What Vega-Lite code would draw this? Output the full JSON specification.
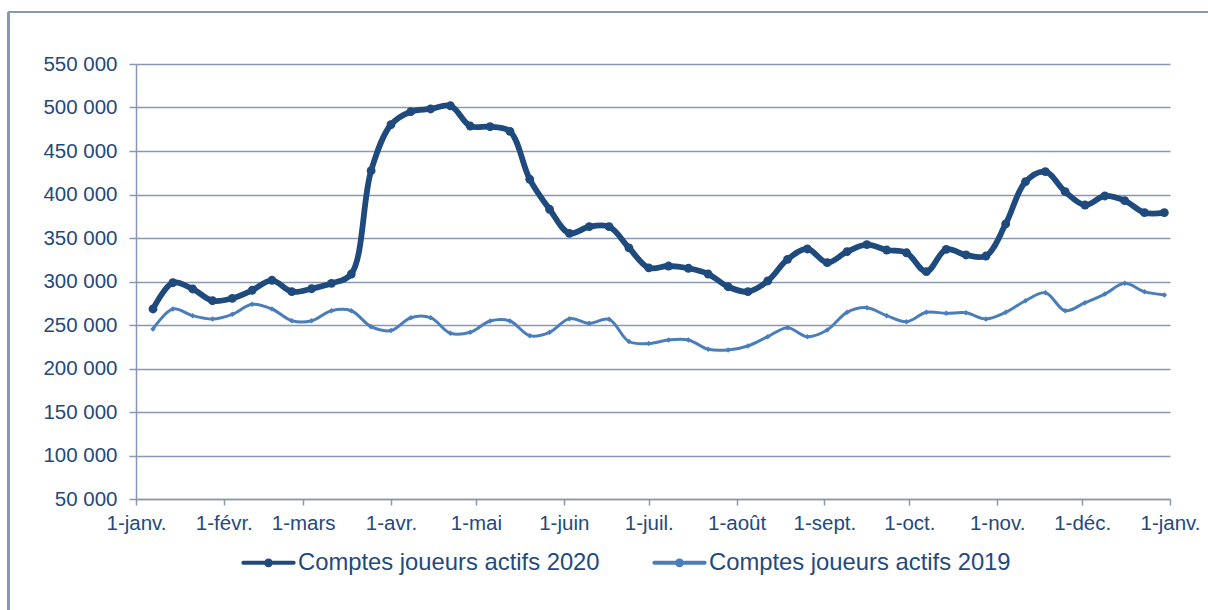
{
  "$schema": "https://vega.github.io/schema/vega-lite/v6.json",
  "width": 1034,
  "height": 435,
  "autosize": {"type": "none"},
  "padding": {"left": 136, "top": 64, "right": 38, "bottom": 111},
  "background": "white",
  "config": {
    "view": {"stroke": null},
    "font": "Liberation Sans",
    "axis": {
      "labelFont": "Liberation Sans",
      "labelFontSize": 20.5,
      "labelColor": "#1f4a7d",
      "domainColor": "#8a97b0",
      "domainWidth": 1.5,
      "tickColor": "#8a97b0",
      "tickWidth": 1.5,
      "gridColor": "#8a97b0",
      "gridWidth": 1.5,
      "title": null
    }
  },
  "data": {"values": [
    {"date": "2019-01-07", "serie": "2020", "comptes": 268400},
    {"date": "2019-01-14", "serie": "2020", "comptes": 298600},
    {"date": "2019-01-21", "serie": "2020", "comptes": 291400},
    {"date": "2019-01-28", "serie": "2020", "comptes": 277900},
    {"date": "2019-02-04", "serie": "2020", "comptes": 280700},
    {"date": "2019-02-11", "serie": "2020", "comptes": 289900},
    {"date": "2019-02-18", "serie": "2020", "comptes": 301400},
    {"date": "2019-02-25", "serie": "2020", "comptes": 288300},
    {"date": "2019-03-04", "serie": "2020", "comptes": 291700},
    {"date": "2019-03-11", "serie": "2020", "comptes": 297900},
    {"date": "2019-03-18", "serie": "2020", "comptes": 308600},
    {"date": "2019-03-25", "serie": "2020", "comptes": 427400},
    {"date": "2019-04-01", "serie": "2020", "comptes": 480200},
    {"date": "2019-04-08", "serie": "2020", "comptes": 495200},
    {"date": "2019-04-15", "serie": "2020", "comptes": 498300},
    {"date": "2019-04-22", "serie": "2020", "comptes": 502000},
    {"date": "2019-04-29", "serie": "2020", "comptes": 478700},
    {"date": "2019-05-06", "serie": "2020", "comptes": 477900},
    {"date": "2019-05-13", "serie": "2020", "comptes": 472600},
    {"date": "2019-05-20", "serie": "2020", "comptes": 417500},
    {"date": "2019-05-27", "serie": "2020", "comptes": 383000},
    {"date": "2019-06-03", "serie": "2020", "comptes": 355400},
    {"date": "2019-06-10", "serie": "2020", "comptes": 363000},
    {"date": "2019-06-17", "serie": "2020", "comptes": 363000},
    {"date": "2019-06-24", "serie": "2020", "comptes": 338700},
    {"date": "2019-07-01", "serie": "2020", "comptes": 315700},
    {"date": "2019-07-08", "serie": "2020", "comptes": 317800},
    {"date": "2019-07-15", "serie": "2020", "comptes": 315200},
    {"date": "2019-07-22", "serie": "2020", "comptes": 308600},
    {"date": "2019-07-29", "serie": "2020", "comptes": 294000},
    {"date": "2019-08-05", "serie": "2020", "comptes": 288300},
    {"date": "2019-08-12", "serie": "2020", "comptes": 300600},
    {"date": "2019-08-19", "serie": "2020", "comptes": 325500},
    {"date": "2019-08-26", "serie": "2020", "comptes": 337400},
    {"date": "2019-09-02", "serie": "2020", "comptes": 321600},
    {"date": "2019-09-09", "serie": "2020", "comptes": 334300},
    {"date": "2019-09-16", "serie": "2020", "comptes": 342300},
    {"date": "2019-09-23", "serie": "2020", "comptes": 336200},
    {"date": "2019-09-30", "serie": "2020", "comptes": 333000},
    {"date": "2019-10-07", "serie": "2020", "comptes": 311300},
    {"date": "2019-10-14", "serie": "2020", "comptes": 337000},
    {"date": "2019-10-21", "serie": "2020", "comptes": 330500},
    {"date": "2019-10-28", "serie": "2020", "comptes": 329300},
    {"date": "2019-11-04", "serie": "2020", "comptes": 366100},
    {"date": "2019-11-11", "serie": "2020", "comptes": 414700},
    {"date": "2019-11-18", "serie": "2020", "comptes": 426200},
    {"date": "2019-11-25", "serie": "2020", "comptes": 403200},
    {"date": "2019-12-02", "serie": "2020", "comptes": 387900},
    {"date": "2019-12-09", "serie": "2020", "comptes": 398300},
    {"date": "2019-12-16", "serie": "2020", "comptes": 392900},
    {"date": "2019-12-23", "serie": "2020", "comptes": 379100},
    {"date": "2019-12-30", "serie": "2020", "comptes": 379100},
    {"date": "2019-01-07", "serie": "2019", "comptes": 245400},
    {"date": "2019-01-14", "serie": "2019", "comptes": 268400},
    {"date": "2019-01-21", "serie": "2019", "comptes": 260700},
    {"date": "2019-01-28", "serie": "2019", "comptes": 256900},
    {"date": "2019-02-04", "serie": "2019", "comptes": 262300},
    {"date": "2019-02-11", "serie": "2019", "comptes": 273800},
    {"date": "2019-02-18", "serie": "2019", "comptes": 268400},
    {"date": "2019-02-25", "serie": "2019", "comptes": 254900},
    {"date": "2019-03-04", "serie": "2019", "comptes": 254900},
    {"date": "2019-03-11", "serie": "2019", "comptes": 266400},
    {"date": "2019-03-18", "serie": "2019", "comptes": 266400},
    {"date": "2019-03-25", "serie": "2019", "comptes": 248100},
    {"date": "2019-04-01", "serie": "2019", "comptes": 243600},
    {"date": "2019-04-08", "serie": "2019", "comptes": 258400},
    {"date": "2019-04-15", "serie": "2019", "comptes": 258400},
    {"date": "2019-04-22", "serie": "2019", "comptes": 240500},
    {"date": "2019-04-29", "serie": "2019", "comptes": 241600},
    {"date": "2019-05-06", "serie": "2019", "comptes": 254600},
    {"date": "2019-05-13", "serie": "2019", "comptes": 254600},
    {"date": "2019-05-20", "serie": "2019", "comptes": 237700},
    {"date": "2019-05-27", "serie": "2019", "comptes": 241600},
    {"date": "2019-06-03", "serie": "2019", "comptes": 257300},
    {"date": "2019-06-10", "serie": "2019", "comptes": 251900},
    {"date": "2019-06-17", "serie": "2019", "comptes": 256500},
    {"date": "2019-06-24", "serie": "2019", "comptes": 231000},
    {"date": "2019-07-01", "serie": "2019", "comptes": 228700},
    {"date": "2019-07-08", "serie": "2019", "comptes": 232800},
    {"date": "2019-07-15", "serie": "2019", "comptes": 232800},
    {"date": "2019-07-22", "serie": "2019", "comptes": 222100},
    {"date": "2019-07-29", "serie": "2019", "comptes": 221300},
    {"date": "2019-08-05", "serie": "2019", "comptes": 225900},
    {"date": "2019-08-12", "serie": "2019", "comptes": 236600},
    {"date": "2019-08-19", "serie": "2019", "comptes": 246900},
    {"date": "2019-08-26", "serie": "2019", "comptes": 236600},
    {"date": "2019-09-02", "serie": "2019", "comptes": 244300},
    {"date": "2019-09-09", "serie": "2019", "comptes": 264600},
    {"date": "2019-09-16", "serie": "2019", "comptes": 269900},
    {"date": "2019-09-23", "serie": "2019", "comptes": 260700},
    {"date": "2019-09-30", "serie": "2019", "comptes": 253800},
    {"date": "2019-10-07", "serie": "2019", "comptes": 264600},
    {"date": "2019-10-14", "serie": "2019", "comptes": 263400},
    {"date": "2019-10-21", "serie": "2019", "comptes": 264100},
    {"date": "2019-10-28", "serie": "2019", "comptes": 256900},
    {"date": "2019-11-04", "serie": "2019", "comptes": 264600},
    {"date": "2019-11-11", "serie": "2019", "comptes": 277900},
    {"date": "2019-11-18", "serie": "2019", "comptes": 287100},
    {"date": "2019-11-25", "serie": "2019", "comptes": 266400},
    {"date": "2019-12-02", "serie": "2019", "comptes": 275600},
    {"date": "2019-12-09", "serie": "2019", "comptes": 285600},
    {"date": "2019-12-16", "serie": "2019", "comptes": 297900},
    {"date": "2019-12-23", "serie": "2019", "comptes": 288300},
    {"date": "2019-12-30", "serie": "2019", "comptes": 284500}
  ]},
  "layer": [
    {
      "mark": {"type": "rule", "color": "#8a97b0", "strokeWidth": 1.5, "clip": false},
      "encoding": {
        "x": {"datum": {"year": 2018, "month": 11, "date": 17, "utc": true}, "type": "temporal"},
        "y": {"datum": 609400},
        "y2": {"datum": -100000}
      }
    },
    {
      "mark": {"type": "rule", "color": "#8a97b0", "strokeWidth": 1.5, "clip": false},
      "encoding": {
        "x": {"datum": {"year": 2018, "month": 11, "date": 17, "utc": true}, "type": "temporal"},
        "x2": {"datum": {"year": 2020, "month": 2, "date": 15, "utc": true}},
        "y": {"datum": 609400}
      }
    },
    {
      "mark": {"type": "line", "interpolate": "catmull-rom", "strokeCap": "round", "strokeJoin": "round"},
      "encoding": {
        "x": {
          "field": "date", "type": "temporal",
          "scale": {"type": "utc", "domain": [{"year": 2019, "month": 1, "date": 1, "utc": true}, {"year": 2020, "month": 1, "date": 1, "utc": true}]},
          "axis": {
            "values": [
              {"year": 2019, "month": 1, "date": 1, "utc": true},
              {"year": 2019, "month": 2, "date": 1, "utc": true},
              {"year": 2019, "month": 3, "date": 1, "utc": true},
              {"year": 2019, "month": 4, "date": 1, "utc": true},
              {"year": 2019, "month": 5, "date": 1, "utc": true},
              {"year": 2019, "month": 6, "date": 1, "utc": true},
              {"year": 2019, "month": 7, "date": 1, "utc": true},
              {"year": 2019, "month": 8, "date": 1, "utc": true},
              {"year": 2019, "month": 9, "date": 1, "utc": true},
              {"year": 2019, "month": 10, "date": 1, "utc": true},
              {"year": 2019, "month": 11, "date": 1, "utc": true},
              {"year": 2019, "month": 12, "date": 1, "utc": true},
              {"year": 2020, "month": 1, "date": 1, "utc": true}
            ],
            "labelExpr": "'1-' + ['janv.','févr.','mars','avr.','mai','juin','juil.','août','sept.','oct.','nov.','déc.'][utcmonth(datum.value)]",
            "grid": false,
            "tickSize": 6,
            "labelPadding": 8,
            "labelFlush": false,
            "labelOverlap": false
          }
        },
        "y": {
          "field": "comptes", "type": "quantitative",
          "scale": {"domain": [50000, 550000], "nice": false, "zero": false},
          "axis": {
            "values": [50000, 100000, 150000, 200000, 250000, 300000, 350000, 400000, 450000, 500000, 550000],
            "labelExpr": "replace(format(datum.value, ','), ',', ' ')",
            "tickSize": 7,
            "labelPadding": 12,
            "grid": true
          }
        },
        "color": {
          "field": "serie", "type": "nominal",
          "scale": {"domain": ["2020", "2019"], "range": ["#1f4a7d", "#4a7ebb"]},
          "legend": {
            "orient": "none",
            "legendX": 104,
            "legendY": 470,
            "direction": "horizontal",
            "title": null,
            "symbolSize": 2809,
            "symbolType": "M-0.95,0L0.95,0M0.09,0A0.09,0.09 0 1,1 -0.09,0A0.09,0.09 0 1,1 0.09,0Z",
            "symbolStrokeWidth": 4,
            "labelFont": "Liberation Sans",
            "labelFontSize": 23.8,
            "labelColor": "#1f4a7d",
            "labelOffset": 1,
            "columnPadding": 51,
            "labelLimit": 500,
            "labelExpr": "'Comptes joueurs actifs ' + datum.label",
            "encoding": {
              "symbols": {
                "stroke": {"expr": "datum.value === '2020' ? '#1f4a7d' : '#4a7ebb'"},
                "strokeWidth": {"expr": "datum.value === '2020' ? 5.5 : 3"},
                "strokeCap": {"value": "round"},
                "strokeJoin": {"value": "round"}
              }
            }
          }
        },
        "strokeWidth": {
          "condition": {"test": "datum.serie === '2020'", "value": 5.8},
          "value": 3
        }
      }
    },
    {
      "mark": {"type": "point", "filled": true, "opacity": 1},
      "encoding": {
        "x": {"field": "date", "type": "temporal"},
        "y": {"field": "comptes", "type": "quantitative"},
        "color": {"field": "serie", "type": "nominal", "legend": null},
        "shape": {
          "condition": {"test": "datum.serie === '2020'", "value": "circle"},
          "value": "diamond"
        },
        "size": {
          "condition": {"test": "datum.serie === '2020'", "value": 78},
          "value": 30
        }
      }
    }
  ]
}
